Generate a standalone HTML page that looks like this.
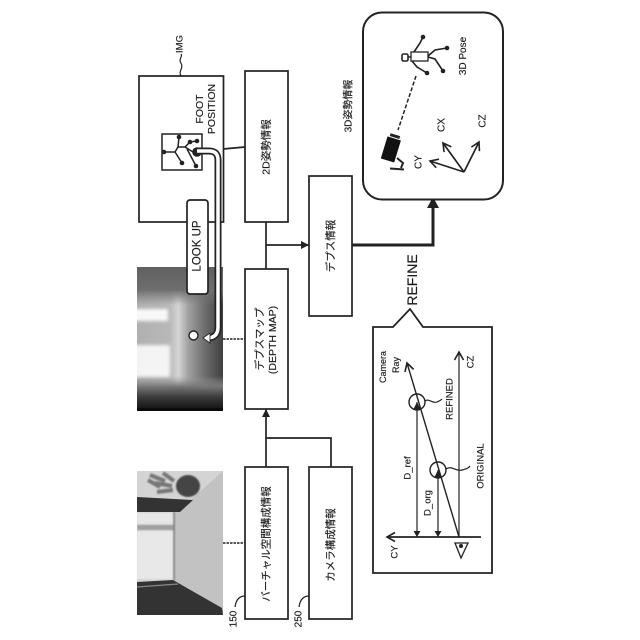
<!DOCTYPE html>
<html><head><meta charset="utf-8"><style>
html,body{margin:0;padding:0;background:#fff;width:640px;height:640px;overflow:hidden}
svg{display:block}
text{font-family:"Liberation Sans","Noto Sans CJK JP",sans-serif;fill:#1a1a1a;stroke:#1a1a1a;stroke-width:.15;text-anchor:middle;dominant-baseline:central}
.b{fill:#fff;stroke:#222;stroke-width:1.700}
.l{fill:none;stroke:#222;stroke-width:1.700}
.t{fill:none;stroke:#222;stroke-width:1.200}
.d{fill:none;stroke:#222;stroke-width:1.600;stroke-dasharray:2.500 1}
</style></head><body>
<svg width="640" height="640" viewBox="0 0 640 640" xmlns="http://www.w3.org/2000/svg">
<defs>
<linearGradient id="dh" x1="0" x2="1" y1="0" y2="0">
<stop offset="0" stop-color="#b0b0b0"/><stop offset=".38" stop-color="#b8b8b8"/><stop offset=".48" stop-color="#d4d4d4"/><stop offset=".6" stop-color="#a0a0a0"/><stop offset=".8" stop-color="#6a6a6a"/><stop offset="1" stop-color="#404040"/>
</linearGradient>
<linearGradient id="dt" x1="0" x2="0" y1="0" y2="1">
<stop offset="0" stop-color="#606060"/><stop offset=".6" stop-color="#6e6e6e"/><stop offset="1" stop-color="#777" stop-opacity="0"/>
</linearGradient>
<linearGradient id="db" x1="0" x2="0" y1="1" y2="0">
<stop offset="0" stop-color="#0c0c0c"/><stop offset=".4" stop-color="#3c3c3c"/><stop offset=".7" stop-color="#777"/><stop offset="1" stop-color="#999" stop-opacity="0"/>
</linearGradient>
<filter id="bl"><feGaussianBlur stdDeviation="1.500"/></filter>
<filter id="bl2"><feGaussianBlur stdDeviation=".7"/></filter>
<clipPath id="c1"><rect x="137" y="267" width="86" height="144"/></clipPath>
<clipPath id="c2"><rect x="137" y="471" width="86" height="144"/></clipPath>
<marker id="a" markerWidth="9" markerHeight="9" refX="8" refY="4.500" orient="auto" markerUnits="userSpaceOnUse"><path d="M0 .5L8 4.500L0 8.500Z" fill="#222"/></marker>
<marker id="o" markerWidth="11" markerHeight="11" refX="9" refY="5.500" orient="auto" markerUnits="userSpaceOnUse"><path d="M1 1L9 5.500L1 10" fill="none" stroke="#222" stroke-width="1.600"/></marker>
</defs>

<!-- photo -->
<g clip-path="url(#c2)">
<rect x="137" y="471" width="86" height="144" fill="#d4d4d4"/>
<polygon points="173,512 193,498 223,471 223,615 222,608 173,580" fill="#c2c2c2"/>
<g filter="url(#bl2)">
<path d="M150 475L165 481M155 483L172 486M157 492L173 490M163 473L174 481M148 480L160 487" stroke="#777" stroke-width="4" fill="none"/>
<ellipse cx="188" cy="486" rx="12" ry="11" fill="#444"/>
<rect x="137" y="513" width="36" height="11" fill="#e6e6e6"/>
<rect x="137" y="525" width="36" height="5" fill="#a0a0a0"/>
<rect x="137" y="531" width="36" height="48" fill="#e8e8e8"/>
<rect x="173" y="512" width="2" height="68" fill="#888"/>
</g>
<polygon points="137,497 193,500 180,512 137,512" fill="#333"/>
<polygon points="137,582 173,580 222,608 223,615 137,615" fill="#333"/>
<path d="M137 587L178 584" stroke="#888" stroke-width="1.200"/>
</g>

<!-- depth -->
<g clip-path="url(#c1)">
<rect x="137" y="267" width="86" height="144" fill="url(#dh)"/>
<rect x="137" y="267" width="86" height="38" fill="url(#dt)"/>
<rect x="137" y="376" width="86" height="35" fill="url(#db)"/>
<g filter="url(#bl)">
<rect x="130" y="309" width="38" height="12" fill="#f8f8f8"/>
<rect x="130" y="345" width="40" height="32" fill="#f4f4f4"/>
</g>
<rect x="137" y="408" width="86" height="3" fill="#0c0c0c"/>
</g>

<!-- IMG -->
<rect class="b" x="139" y="76" width="84.500" height="146"/>
<path class="t" d="M181 76C178 71 184 68 181 63C178 59 183 57 181 54"/>
<text transform="translate(180 44) rotate(-90)" font-size="9.500">IMG</text>
<text transform="translate(200 109) rotate(-90)" font-size="10.500">FOOT</text>
<text transform="translate(212 109) rotate(-90)" font-size="10.500">POSITION</text>
<rect x="162" y="134" width="40" height="36" fill="#fff" stroke="#222" stroke-width="1.500"/>
<g fill="none" stroke="#222" stroke-width="1.500">
<path d="M164 152L175 152L178 147L179 137M178 147L185 147L190 142L197 141M175 152L182 163M185 147L193 152L197 152M187 149L196 166"/>
</g>
<g fill="#222"><circle cx="164" cy="152" r="2.300"/><circle cx="179" cy="137" r="2.300"/><circle cx="190" cy="142" r="2.300"/><circle cx="197" cy="141" r="2.300"/><circle cx="182" cy="163" r="2.300"/><circle cx="196" cy="166" r="2.300"/><circle cx="197" cy="152" r="4.800"/></g>

<!-- LOOK UP -->
<rect x="187" y="200" width="21" height="94" rx="3" fill="#fff" stroke="#222" stroke-width="1.700"/>
<text transform="translate(197.500 246) rotate(-90)" font-size="11.500">LOOK UP</text>

<!-- white path -->
<path d="M197 151H209Q218 151 218 160V327Q218 338 207 338" fill="none" stroke="#222" stroke-width="7"/>
<path d="M197 151H209Q218 151 218 160V327Q218 338 207 338" fill="none" stroke="#fff" stroke-width="3.500"/>
<polygon points="203,338 210,333 210,343" fill="#fff" stroke="#222" stroke-width=".8"/>
<circle cx="193.500" cy="335.500" r="4.500" fill="#fff" stroke="#222" stroke-width="1.400"/>

<!-- dashed connectors -->
<path class="l" d="M223 149L245 147"/>
<path class="d" d="M223 339H245"/>
<path class="d" d="M223 543H245"/>

<!-- Connectors -->
<path class="l" d="M266 222V269"/>
<path class="l" d="M266 245H309" marker-end="url(#a)"/>
<path class="l" d="M266 467V409" marker-end="url(#a)"/>
<path class="l" d="M266 438H331V467"/>
<path d="M352 245H433V200" fill="none" stroke="#222" stroke-width="3"/>
<polygon points="433,197 427,208 439,208" fill="#222"/>

<!-- boxes -->
<rect class="b" x="245" y="71" width="43" height="151"/>
<text transform="translate(266.500 147) rotate(-90)" font-size="10.500">2D姿勢情報</text>
<rect class="b" x="245" y="269" width="43" height="140"/>
<text transform="translate(260 339) rotate(-90)" font-size="10.500">デプスマップ</text>
<text transform="translate(273 340) rotate(-90)" font-size="10.500">(DEPTH MAP)</text>
<rect class="b" x="245" y="467" width="43" height="152"/>
<text transform="translate(266.500 544) rotate(-90)" font-size="10.500">バーチャル空間構成情報</text>
<rect class="b" x="309" y="467" width="43" height="152"/>
<text transform="translate(331 545) rotate(-90)" font-size="10.500">カメラ構成情報</text>
<rect class="b" x="309" y="176" width="43" height="140"/>
<text transform="translate(331 246) rotate(-90)" font-size="10.500">デプス情報</text>

<!-- ref numerals -->
<path class="t" d="M245 596C239 596 236 600 235 607"/>
<text transform="translate(234 619) rotate(-90)" font-size="10">150</text>
<path class="t" d="M309 596C303 596 300 600 299 607"/>
<text transform="translate(299 619) rotate(-90)" font-size="10">250</text>

<!-- 3D pose -->
<text transform="translate(349 106) rotate(-90)" font-size="10">3D姿勢情報</text>
<rect x="363" y="12.500" width="140" height="187" rx="19" fill="#fff" stroke="#222" stroke-width="2"/>
<rect x="411" y="52" width="17" height="9" fill="#fff" stroke="#222" stroke-width="1.300"/>
<rect x="402" y="54" width="6" height="7" rx="1.500" fill="#fff" stroke="#222" stroke-width="1.600"/>
<g fill="none" stroke="#222" stroke-width="1.600">
<path d="M408 57H411M414 52L420 43L423 37M428 56L435 50L447 48M428 57L435 59L443 71M412 61L417 67L427 73"/>
</g>
<g fill="#222"><circle cx="423" cy="37" r="2.300"/><circle cx="447" cy="48" r="2.300"/><circle cx="443" cy="71" r="2.300"/><circle cx="427" cy="73" r="2.300"/></g>
<path d="M416 76L398 130" fill="none" stroke="#222" stroke-width="1.500" stroke-dasharray="4 2"/>
<g transform="translate(391 149) rotate(17)"><rect x="-7" y="-11" width="14" height="23" fill="#111"/><rect x="-5" y="-15" width="10" height="3" fill="#222"/></g>
<path d="M397 158L403 163L401 168M390 168.500L404 169.500" fill="none" stroke="#222" stroke-width="2"/>
<text transform="translate(463.500 56) rotate(-90)" font-size="10">3D Pose</text>
<path class="l" d="M464 172L430 161" marker-end="url(#o)"/>
<path class="l" d="M464 172L443 143" marker-end="url(#o)"/>
<path class="l" d="M464 172L479 142" marker-end="url(#o)"/>
<text transform="translate(419 162) rotate(-90)" font-size="10">CY</text>
<text transform="translate(442 125) rotate(-90)" font-size="10">CX</text>
<text transform="translate(483 121) rotate(-90)" font-size="10">CZ</text>

<!-- refine -->
<text transform="translate(412 280) rotate(-90)" font-size="14">REFINE</text>
<path d="M373 327H393L410 309L423 327H492V573H373Z" fill="#fff" stroke="#222" stroke-width="1.800"/>
<text transform="translate(383 367) rotate(-90)" font-size="9">Camera</text>
<text transform="translate(396 365) rotate(-90)" font-size="9">Ray</text>
<path class="t" d="M459 537L407 363" marker-end="url(#o)" style="stroke-width:1.400"/>
<path class="t" d="M459 537V352" marker-end="url(#o)"/>
<path class="l" d="M481 537H387" marker-end="url(#o)"/>
<polygon points="455,543 468,543 461,558" fill="#fff" stroke="#222" stroke-width="1.300"/>
<circle cx="461" cy="546" r="2" fill="#222"/>
<path class="t" d="M417 537V402" marker-end="url(#a)"/>
<polygon points="417,537 413.500,531 420.500,531" fill="#222"/>
<path class="t" d="M438 537V470" marker-end="url(#a)"/>
<polygon points="438,537 434.500,531 441.500,531" fill="#222"/>
<circle cx="417" cy="402" r="8" fill="none" stroke="#222" stroke-width="1.400"/>
<circle cx="438" cy="470" r="8" fill="none" stroke="#222" stroke-width="1.400"/>
<path class="t" d="M425 401C429 398 433 404 437 402C439 401 440 401 442 399"/>
<path class="t" d="M446 469C452 465 456 472 462 470C465 469 468 469 470 466"/>
<text transform="translate(408 468) rotate(-90)" font-size="9.500">D_ref</text>
<text transform="translate(428 503) rotate(-90)" font-size="9.500">D_org</text>
<text transform="translate(450 399) rotate(-90)" font-size="9.500">REFINED</text>
<text transform="translate(481 466) rotate(-90)" font-size="9.500">ORIGINAL</text>
<text transform="translate(471 362) rotate(-90)" font-size="9.500">CZ</text>
<text transform="translate(395 552) rotate(-90)" font-size="9.500">CY</text>
</svg>
</body></html>
